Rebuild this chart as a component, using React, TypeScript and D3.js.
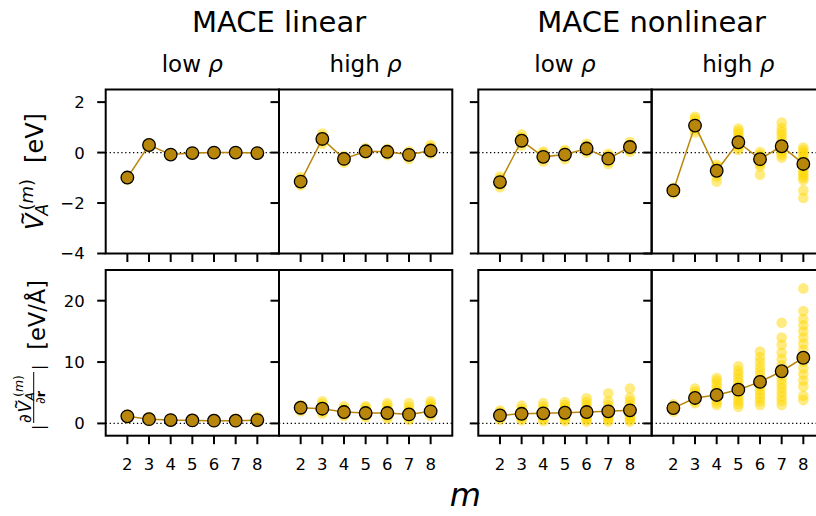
import React from 'react';
import * as d3 from 'd3';

// body orders on the x axis
const orders = [2, 3, 4, 5, 6, 7, 8];
const xTickValues = [2, 3, 4, 5, 6, 7, 8];
const energyTickValues = [-4, -2, 0, 2];
const forceTickValues = [0, 10, 20];
const groupTitles = ['MACE linear', 'MACE nonlinear'];
const densityLabels = ['low', 'high', 'low', 'high'];

// mean energy contribution per body order [eV]
const energyMeanLinearLow = [-0.99, 0.3, -0.08, -0.02, 0.0, 0.0, -0.02];
const energyMeanLinearHigh = [-1.15, 0.54, -0.25, 0.05, 0.03, -0.09, 0.08];
const energyMeanNonlinearLow = [-1.17, 0.47, -0.17, -0.08, 0.16, -0.24, 0.22];
const energyMeanNonlinearHigh = [-1.5, 1.07, -0.72, 0.41, -0.26, 0.25, -0.45];

// per-atom energy contributions [eV]
const energySamplesLinearLow = [
  [-1.08, -1.03, -0.99, -0.95, -0.92, -1.01],
  [0.22, 0.27, 0.31, 0.35, 0.38, 0.29],
  [-0.12, -0.09, -0.07, -0.05, -0.1],
  [-0.04, -0.02, 0.0, -0.01, 0.01],
  [-0.02, 0.0, 0.02, 0.01, -0.01],
  [-0.02, 0.0, 0.01, 0.02, -0.01],
  [-0.05, -0.03, -0.01, 0.0, -0.02],
];
const energySamplesLinearHigh = [
  [-1.3, -1.22, -1.17, -1.12, -1.05, -0.97],
  [0.35, 0.45, 0.52, 0.58, 0.65, 0.75],
  [-0.4, -0.32, -0.26, -0.2, -0.14],
  [-0.06, 0.0, 0.05, 0.1, 0.18],
  [-0.1, -0.03, 0.03, 0.08, 0.15],
  [-0.25, -0.17, -0.1, -0.03, 0.05],
  [-0.05, 0.02, 0.08, 0.14, 0.22, 0.3],
];
const energySamplesNonlinearLow = [
  [-1.37, -1.28, -1.2, -1.12, -1.04, -0.95],
  [0.28, 0.38, 0.46, 0.53, 0.62, 0.72],
  [-0.35, -0.26, -0.18, -0.1, -0.02, 0.04],
  [-0.26, -0.16, -0.09, -0.02, 0.05, 0.1],
  [0.0, 0.07, 0.14, 0.2, 0.27, 0.35],
  [-0.45, -0.36, -0.28, -0.2, -0.12, -0.05],
  [0.03, 0.1, 0.18, 0.25, 0.33, 0.42],
];
const energySamplesNonlinearHigh = [
  [-1.62, -1.56, -1.5, -1.45, -1.4],
  [0.8, 0.9, 1.0, 1.07, 1.15, 1.25, 1.35, 1.42],
  [-0.48, -0.55, -0.62, -0.7, -0.78, -0.85, -0.95, -1.15],
  [0.1, 0.2, 0.3, 0.38, 0.45, 0.55, 0.65, 0.75, 0.85, 0.95],
  [0.02, -0.08, -0.15, -0.22, -0.3, -0.38, -0.45, -0.55, -0.88],
  [1.19, 0.97, 0.83, 0.7, 0.55, 0.42, 0.3, 0.2, 0.1, 0.0, -0.1, -0.2],
  [0.2, 0.1, 0.0, -0.1, -0.2, -0.3, -0.4, -0.5, -0.6, -0.7, -0.8, -0.9, -1.0, -1.1, -1.5, -1.8],
];

// mean force magnitude per body order [eV/Å]
const forceMeanLinearLow = [1.15, 0.7, 0.54, 0.49, 0.45, 0.45, 0.54];
const forceMeanLinearHigh = [2.56, 2.4, 1.85, 1.69, 1.69, 1.47, 1.97];
const forceMeanNonlinearLow = [1.31, 1.57, 1.64, 1.74, 1.85, 1.97, 2.13];
const forceMeanNonlinearHigh = [2.5, 4.15, 4.64, 5.5, 6.77, 8.5, 10.7];

// per-atom force magnitudes [eV/Å]
const forceSamplesLinearLow = [
  [0.8, 1.0, 1.15, 1.3, 1.5],
  [0.4, 0.6, 0.75, 0.9, 1.1],
  [0.3, 0.45, 0.55, 0.7, 0.85],
  [0.25, 0.4, 0.5, 0.6, 0.8],
  [0.2, 0.35, 0.45, 0.6, 0.75],
  [0.2, 0.35, 0.45, 0.6, 0.8],
  [0.2, 0.35, 0.5, 0.7, 0.9, 1.1],
];
const forceSamplesLinearHigh = [
  [2.0, 2.25, 2.5, 2.75, 3.0],
  [1.6, 1.9, 2.2, 2.5, 2.8, 3.2, 3.6],
  [1.2, 1.5, 1.8, 2.1, 2.4, 2.8],
  [1.0, 1.3, 1.6, 1.9, 2.2, 2.6, 2.8],
  [0.8, 1.1, 1.4, 1.7, 2.0, 2.4, 2.9, 3.3],
  [0.6, 0.9, 1.2, 1.5, 1.8, 2.2, 2.7, 3.3],
  [1.2, 1.5, 1.8, 2.1, 2.4, 2.8, 3.2, 3.6],
];
const forceSamplesNonlinearLow = [
  [0.6, 0.9, 1.2, 1.5, 1.8, 2.1],
  [0.5, 0.8, 1.1, 1.4, 1.7, 2.0, 2.4, 2.9],
  [0.4, 0.7, 1.0, 1.3, 1.6, 1.9, 2.3, 2.8, 3.3],
  [0.4, 0.7, 1.0, 1.3, 1.6, 1.9, 2.2, 2.6, 3.0, 3.5],
  [0.3, 0.6, 0.9, 1.2, 1.5, 1.8, 2.1, 2.5, 3.0, 3.5, 4.1],
  [0.3, 0.6, 0.9, 1.2, 1.5, 1.8, 2.1, 2.5, 3.0, 3.6, 4.9],
  [0.3, 0.6, 0.9, 1.2, 1.5, 1.8, 2.1, 2.5, 3.0, 3.6, 4.2, 5.7],
];
const forceSamplesNonlinearHigh = [
  [1.9, 2.2, 2.5, 2.8, 3.1],
  [3.3, 3.6, 3.9, 4.2, 4.5, 4.8, 5.2, 5.7],
  [3.0, 3.4, 3.8, 4.2, 4.6, 5.0, 5.4, 5.9, 6.4, 7.0, 7.4],
  [2.7, 3.2, 3.7, 4.2, 4.7, 5.2, 5.7, 6.2, 6.8, 7.4, 8.0, 8.6, 9.3],
  [3.0, 3.6, 4.2, 4.8, 5.4, 6.0, 6.6, 7.2, 7.8, 8.5, 9.2, 10.0, 10.8, 11.7],
  [3.0, 3.7, 4.4, 5.1, 5.8, 6.5, 7.2, 7.9, 8.6, 9.5, 10.5, 11.5, 12.8, 14.0, 16.4],
  [3.8, 4.5, 6.0, 7.0, 8.0, 9.0, 10.0, 11.0, 12.0, 13.0, 14.0, 15.0, 16.0, 17.0, 18.3, 22.0],
];

const energyMeans = [energyMeanLinearLow, energyMeanLinearHigh, energyMeanNonlinearLow, energyMeanNonlinearHigh];
const energySamples = [energySamplesLinearLow, energySamplesLinearHigh, energySamplesNonlinearLow, energySamplesNonlinearHigh];
const forceMeans = [forceMeanLinearLow, forceMeanLinearHigh, forceMeanNonlinearLow, forceMeanNonlinearHigh];
const forceSamples = [forceSamplesLinearLow, forceSamplesLinearHigh, forceSamplesNonlinearLow, forceSamplesNonlinearHigh];

// layout
const W = 816;
const H = 516;
const FONT = 'DejaVu Sans, sans-serif';
const panelLefts = [105.7, 279, 478.3, 651.7];
const panelWidth = 173.3;
const rows = [
  { top: 89.5, bottom: 253.5, domain: [-4, 2.5], ticks: energyTickValues },
  { top: 270, bottom: 435.7, domain: [-2, 25], ticks: forceTickValues },
];
const TICK = 8.5;
const SAMPLE_COLOR = '#FFD700';
const MEAN_COLOR = '#B8860B';

const fmt = (v: number) => (v < 0 ? '\u2212' + Math.abs(v) : String(v));

function Panel({ col, row }: { col: number; row: number }) {
  const left = panelLefts[col];
  const r = rows[row];
  const x = d3.scaleLinear().domain([1, 9]).range([left, left + panelWidth]);
  const y = d3.scaleLinear().domain(r.domain).range([r.bottom, r.top]);
  const means = row === 0 ? energyMeans[col] : forceMeans[col];
  const samples = row === 0 ? energySamples[col] : forceSamples[col];
  const line = d3
    .line<number>()
    .x((_, i) => x(orders[i]))
    .y((d) => y(d));
  const clipId = `clip-${row}-${col}`;
  return (
    <g>
      <clipPath id={clipId}>
        <rect x={left} y={r.top} width={panelWidth} height={r.bottom - r.top} />
      </clipPath>
      <g clipPath={`url(#${clipId})`}>
        <line
          x1={left}
          x2={left + panelWidth}
          y1={y(0)}
          y2={y(0)}
          stroke="#000"
          strokeWidth={1.3}
          strokeDasharray="1.3,2.6"
        />
        {samples.map((vals, i) =>
          vals.map((v, j) => (
            <circle key={`s${i}-${j}`} cx={x(orders[i])} cy={y(v)} r={5.3} fill={SAMPLE_COLOR} fillOpacity={0.5} />
          ))
        )}
        <path d={line(means) || ''} fill="none" stroke={MEAN_COLOR} strokeWidth={1.5} />
        {means.map((v, i) => (
          <circle key={`m${i}`} cx={x(orders[i])} cy={y(v)} r={6.3} fill={MEAN_COLOR} stroke="#000" strokeWidth={1.3} />
        ))}
      </g>
      <rect
        x={left}
        y={r.top}
        width={panelWidth}
        height={r.bottom - r.top}
        fill="none"
        stroke="#000"
        strokeWidth={2}
      />
      {/* y ticks */}
      {r.ticks.map((t) => (
        <g key={`yt${t}`}>
          <line x1={left - TICK} x2={left} y1={y(t)} y2={y(t)} stroke="#000" strokeWidth={2} />
          {col === 0 && (
            <text x={left - 21} y={y(t)} dy="0.36em" textAnchor="end" fontSize={16.5} fontFamily={FONT}>
              {fmt(t)}
            </text>
          )}
        </g>
      ))}
      {/* x ticks */}
      {xTickValues.map((t) => (
        <g key={`xt${t}`}>
          <line x1={x(t)} x2={x(t)} y1={r.bottom} y2={r.bottom + TICK} stroke="#000" strokeWidth={2} />
          {row === 1 && (
            <text x={x(t)} y={470} textAnchor="middle" fontSize={16.5} fontFamily={FONT}>
              {t}
            </text>
          )}
        </g>
      ))}
    </g>
  );
}

export default function App() {
  const groupCenters = [
    (panelLefts[0] + panelLefts[1] + panelWidth) / 2,
    (panelLefts[2] + panelLefts[3] + panelWidth) / 2,
  ];
  return (
    <svg
      width={W}
      height={H}
      viewBox={`0 0 ${W} ${H}`}
      style={{ position: 'absolute', left: 0, top: 0, background: '#fff' }}
      fontFamily={FONT}
    >
      <rect width={W} height={H} fill="#fff" />
      {groupTitles.map((t, i) => (
        <text key={t} x={groupCenters[i]} y={32} textAnchor="middle" fontSize={29}>
          {t}
        </text>
      ))}
      {densityLabels.map((d, i) => (
        <text key={i} x={panelLefts[i] + panelWidth / 2} y={72} textAnchor="middle" fontSize={23}>
          {d} <tspan fontStyle="italic">ρ</tspan>
        </text>
      ))}
      {[0, 1].map((row) => [0, 1, 2, 3].map((col) => <Panel key={`${row}-${col}`} row={row} col={col} />))}

      {/* energy axis label: V tilde, subscript A, superscript (m), unit */}
      <g transform={`translate(43, 171.5) rotate(-90)`}>
        <text x={-58.5} y={0} fontSize={24} fontStyle="italic">V</text>
        <text x={-47} y={-15} fontSize={16} textAnchor="middle" fontWeight="bold">~</text>
        <text x={-44} y={4.5} fontSize={17} fontStyle="italic">A</text>
        <text x={-39} y={-10.5} fontSize={18}>
          (<tspan fontStyle="italic">m</tspan>)
        </text>
        <text x={58.5} y={0} fontSize={24} textAnchor="end">[eV]</text>
      </g>

      {/* force axis label: |∂V/∂r| with unit */}
      <g transform={`translate(45, 353) rotate(-90)`}>
        <text x={-77} y={-1} fontSize={15}>|</text>
        <text x={-70} y={-14.5} fontSize={17}>∂</text>
        <text x={-59.5} y={-14.5} fontSize={17} fontStyle="italic">V</text>
        <text x={-51.5} y={-25.5} fontSize={11.5} textAnchor="middle" fontWeight="bold">~</text>
        <text x={-47.5} y={-11.5} fontSize={12} fontStyle="italic">A</text>
        <text x={-44} y={-22} fontSize={12.5}>
          (<tspan fontStyle="italic">m</tspan>)
        </text>
        <line x1={-70} x2={-19} y1={-11.3} y2={-11.3} stroke="#000" strokeWidth={1} />
        <text x={-44.5} y={0} textAnchor="middle" fontSize={13}>
          ∂<tspan fontWeight="bold">r</tspan>
        </text>
        <text x={-17} y={-1} fontSize={15}>|</text>
        <text x={73} y={0} fontSize={22.5} textAnchor="end">{'[eV/Å]'}</text>
      </g>

      <text x={(panelLefts[0] + panelLefts[3] + panelWidth) / 2} y={506} textAnchor="middle" fontSize={32} fontStyle="italic">
        m
      </text>
    </svg>
  );
}
